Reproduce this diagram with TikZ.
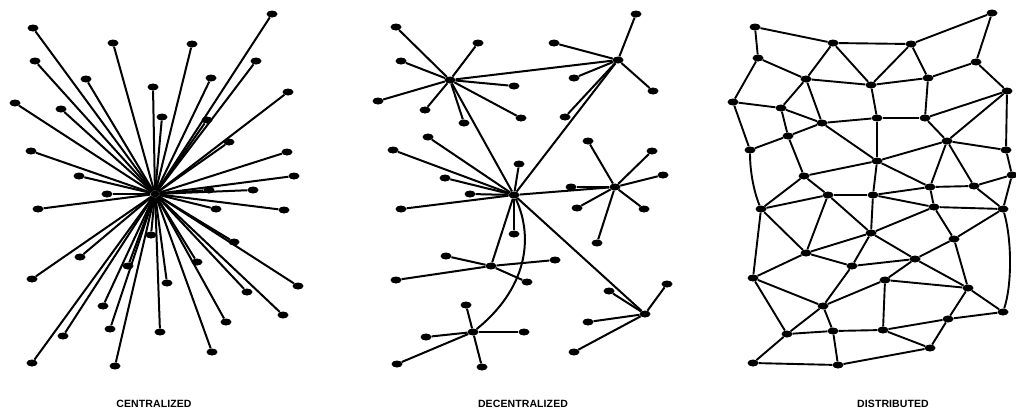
\documentclass[tikz,border=0pt]{standalone}
\usepackage{fontspec}
\newfontfamily\labfont[LetterSpace=1]{Liberation Sans Bold}
\usetikzlibrary{shapes.geometric}
\tikzset{
  dot/.style={ellipse,fill=black,minimum width=11pt,minimum height=7pt,inner sep=0pt},
  hub/.style={ellipse,fill=black,minimum width=9pt,minimum height=7pt,inner sep=0pt},
  edge/.style={line width=2pt,black},
  medge/.style={line width=1.9pt,black},
  lab/.style={font=\labfont\fontsize{10.5}{12}\selectfont}
}
\begin{document}
\begin{tikzpicture}[x=1pt,y=-1pt]
\useasboundingbox[fill=white] (0,0) rectangle (1016,413);
% ---------------- CENTRALIZED ----------------
\node[hub] (C) at (155,194) {};
\foreach \n/\x/\y in {c1/33/28,c2/113/43,c3/192/44,c4/272/14,c5/35/61,c6/256/61,c7/86/79,c8/211/78,c9/153/87,c10/288/92,c11/15/103,c12/61/109,c13/162/117,c14/207/120,c15/229/142,c16/31/151,c17/287/152,c18/79/176,c19/294/176,c20/107/194,c21/209/190,c22/253/190,c23/38/209,c24/216/209,c25/284/210,c26/151/235,c27/234/242,c28/80/257,c29/197/262,c30/128/266,c31/32/279,c32/167/283,c33/298/286,c34/247/292,c35/103/306,c36/283/315,c37/226/322,c38/110/329,c39/63/336,c40/160/332,c41/212/352,c42/32/363,c43/115/366}
  {\node[dot] (\n) at (\x,\y) {}; \draw[edge] (C) -- (\n);}
\node[lab] (lc) at (154,404) {CENTRALIZED};
% ---------------- DECENTRALIZED ----------------
\node[dot] (H1) at (450,80) {};
\node[dot] (H2) at (618,60) {};
\node[dot] (H3) at (514,195) {};
\node[dot] (H4) at (615,187) {};
\node[dot] (H5) at (491,266) {};
\node[dot] (H6) at (473,332) {};
\node[dot] (H7) at (645,314) {};
\foreach \h/\n/\x/\y in {H1/a1/396/27,H1/a2/478/43,H1/a3/401/61,H1/a4/514/86,H1/a5/378/101,H1/a6/425/110,H1/a7/521/118,H1/a8/464/123,
  H2/b1/636/14,H2/b2/554/43,H2/b3/574/78,H2/b4/653/91,H2/b5/565/117,
  H3/e1/428/137,H3/e2/393/150,H3/e3/445/178,H3/e4/470/194,H3/e5/519/164,H3/e6/401/209,H3/e7/514/234,
  H4/f1/588/141,H4/f2/652/151,H4/f3/663/175,H4/f4/571/187,H4/f5/577/208,H4/f6/644/209,H4/f7/597/243,
  H5/g1/446/256,H5/g2/396/280,H5/g3/527/282,H5/g4/555/260,
  H6/k1/466/305,H6/k2/426/337,H6/k3/524/332,H6/k4/397/364,H6/k5/482/367,
  H7/m1/667/284,H7/m2/609/291,H7/m3/588/322,H7/m4/574/352}
  {\node[dot] (\n) at (\x,\y) {}; \draw[edge] (\h) -- (\n);}
\foreach \a/\b in {H1/H2,H1/H3,H2/H3,H3/H4,H3/H5,H3/H7}
  \draw[edge] (\a) -- (\b);
\draw[edge] (H3) .. controls (535,240) and (525,290) .. (H6);
\node[lab] (ld) at (523,404) {DECENTRALIZED};
% ---------------- DISTRIBUTED ----------------
\foreach \n/\x/\y in {d1/755/27,d2/833/43,d3/911/44,d4/992/13,d5/758/58,d6/976/62,d7/806/79,d8/871/85,d9/928/78,d10/1007/91,
  d11/733/102,d12/781/108,d13/822/123,d14/877/118,d15/925/118,d16/788/136,d17/947/141,d18/750/150,d19/1006/150,d20/877/161,
  d21/804/176,d22/1012/175,d23/828/195,d24/873/195,d25/930/187,d26/974/186,d27/761/209,d28/934/207,d29/1003/209,d30/871/233,
  d31/954/239,d32/806/253,d33/915/259,d34/852/266,d35/753/278,d36/885/280,d37/968/288,d38/823/306,d39/1003/312,d40/948/319,
  d41/883/330,d42/833/331,d43/787/334,d44/930/348,d45/753/363,d46/838/365}
  {\node[dot] (\n) at (\x,\y) {};}
\foreach \a/\b in {d1/d5,d1/d2,d2/d3,d2/d7,d2/d8,d3/d4,d3/d8,d3/d9,d4/d6,d5/d7,d5/d11,d6/d9,d6/d10,d7/d8,d7/d12,d7/d13,d8/d9,d8/d14,
  d9/d15,d10/d15,d10/d17,d10/d19,d11/d12,d11/d18,d12/d13,d12/d16,d13/d14,d13/d16,d13/d20,d14/d15,d14/d20,d15/d17,d16/d18,d16/d21,
  d17/d19,d17/d20,d17/d25,d17/d26,d19/d22,d20/d21,d20/d24,d20/d25,d21/d23,d21/d27,d22/d26,d22/d29,d23/d24,d23/d27,
  d23/d32,d23/d30,d24/d25,d24/d28,d24/d30,d25/d26,d25/d28,d26/d29,d27/d32,d27/d35,d28/d29,d28/d30,d28/d31,d29/d31,
  d30/d32,d30/d34,d30/d33,d31/d33,d31/d37,d32/d34,d32/d35,d33/d34,d33/d36,d33/d37,d34/d38,d35/d38,d35/d43,d36/d37,d36/d38,
  d36/d41,d37/d39,d37/d40,d38/d42,d38/d43,d39/d40,d40/d41,d40/d44,d41/d42,d41/d44,d42/d43,d42/d46,d43/d45,d45/d46,d44/d46}
  \draw[medge] (\a) -- (\b);
\draw[medge] (d18) .. controls (750,172) and (754,192) .. (d27);
\draw[medge] (d29) .. controls (1012,240) and (1012,285) .. (d39);
\node[lab] (lt) at (893,404) {DISTRIBUTED};
\end{tikzpicture}
\end{document}
